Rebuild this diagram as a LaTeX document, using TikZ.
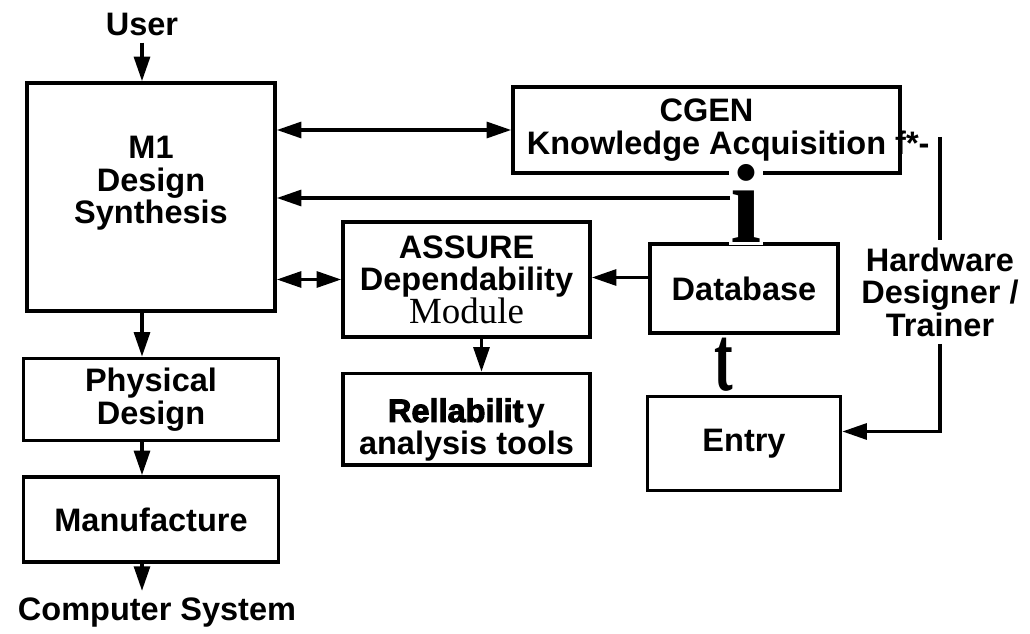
\documentclass[tikz,border=0pt]{standalone}
\usepackage{graphicx}
\usepackage{fontspec}
\setmainfont{Liberation Sans}
\newfontfamily\serifface{Liberation Serif}
\newfontfamily\heavyface{Liberation Sans Bold}[FakeBold=3]
\usetikzlibrary{arrows.meta,positioning}
\tikzset{
  blockbox/.style={draw=black, line width=2pt, align=center,
    font=\fontsize{18.5}{18.5}\selectfont\bfseries, inner sep=2pt},
  freelabel/.style={align=center, font=\fontsize{18.5}{18.5}\selectfont\bfseries,
    inner sep=4pt},
  bigglyph/.style={inner sep=1pt, anchor=base},
  flowarrow/.style={-{Triangle[length=14pt,width=9pt]}, line width=2pt},
  twoway/.style={{Triangle[length=14pt,width=9pt]}-{Triangle[length=14pt,width=9pt]},
    line width=2pt},
  plainline/.style={line width=2pt}
}

\begin{document}
\begin{tikzpicture}[x=0.02cm, y=-0.02cm]
  \useasboundingbox (0,0) rectangle (1030,634);
  % left column
  \node[freelabel] (user) at (142,24) {User};
  \node[blockbox, minimum width=4.96cm, minimum height=4.56cm, text depth=0.67cm] (m1) at (151,197)
    {M1\\Design\\Synthesis};
  \node[blockbox, below=0.88cm of m1, minimum width=5.1cm, minimum height=1.64cm] (phys) {Physical\\Design};
  \node[blockbox, below=0.66cm of phys, minimum width=5.1cm, minimum height=1.7cm] (mfg) {Manufacture};
  \node[freelabel] (sys) at (157,613) {Computer System};
  % middle and right
  \node[blockbox, minimum width=7.74cm, minimum height=1.72cm] (kabox) at (706.5,130)
    {CGEN\\Knowledge Acquisition\rlap{ f*-}};
  \node[blockbox, minimum width=4.94cm, minimum height=2.3cm] (assure) at (466.5,279.5)
    {ASSURE\\Dependability\\{\serifface\mdseries\fontsize{21}{18.5}\selectfont Module}};
  \node[blockbox, below=0.66cm of assure, minimum width=4.94cm, minimum height=1.7cm,
    text height=1.55cm] (rel)
    {{\heavyface\mdseries Rellabilit}\kern2pt y\\analysis tools};
  \node[blockbox, minimum width=3.76cm, minimum height=1.78cm] (db) at (744,288.5) {Database};
  \node[blockbox, below=1.2cm of db, minimum width=3.86cm, minimum height=1.88cm] (entry) {Entry};
  \node[freelabel] (hw) at (940,292) {Hardware\\Designer /\\Trainer};
  % glyphs between boxes
  \node[bigglyph, fill=white, font=\serifface\bfseries\fontsize{64}{64}\selectfont] (junction) at (746,243) {i};
  \node[bigglyph, font=\serifface\bfseries\fontsize{53}{53}\selectfont] (link) at (724,391) {\scalebox{0.6}[1]{t}};
  \coordinate (kaout) at (730,198);
  \coordinate (hwtop) at (940,137);

  \draw[flowarrow] (user) -- (m1.north -| user);
  \draw[flowarrow] (m1.south -| user) -- (phys.north -| user);
  \draw[flowarrow] (phys.south -| user) -- (mfg.north -| user);
  \draw[flowarrow] (mfg.south -| user) -- (sys.north -| user);
  \draw[twoway] (m1.east |- kabox.west) -- (kabox.west);
  \draw[flowarrow] (kaout) -- (kaout -| m1.east);
  \draw[twoway] (m1.east |- assure.west) -- (assure.west);
  \draw[flowarrow] ([yshift=0.22cm]db.west) -- ([yshift=0.22cm]db.west -| assure.east);
  \draw[flowarrow] ([xshift=0.3cm]assure.south) -- ([xshift=0.3cm]assure.south |- rel.north);
  \draw[plainline] (hwtop) -- (hw.north);
  \draw[flowarrow] (hw.south) |- ([yshift=0.24cm]entry.east);
\end{tikzpicture}
\end{document}
